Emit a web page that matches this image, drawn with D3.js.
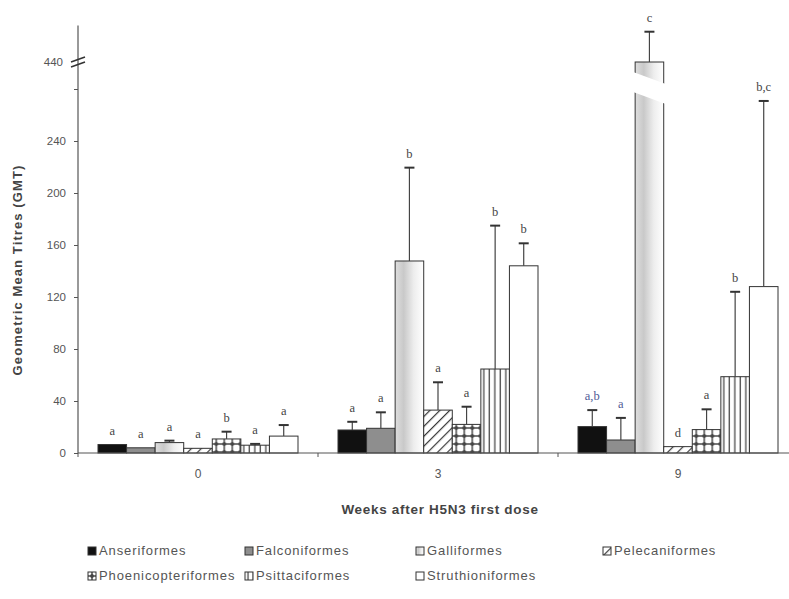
<!DOCTYPE html>
<html>
<head>
<meta charset="utf-8">
<script src="https://cdn.jsdelivr.net/npm/d3@7"></script>
<style>
  html, body { margin: 0; padding: 0; background: #fff; }
  svg { display: block; }
</style>
</head>
<body>
<svg id="chart" width="789" height="599"></svg>
<script>
// Weeks after first dose (groups on the x axis)
const weeks = ["0", "3", "9"];
// Bird orders (one bar each per week)
const orders = ["Anseriformes", "Falconiformes", "Galliformes", "Pelecaniformes",
                "Phoenicopteriformes", "Psittaciformes", "Struthioniformes"];

// Geometric mean titres per order, for each week
const gmtWeek0 = [6.5, 4, 8, 3.6, 10.8, 6, 13];
const gmtWeek3 = [17.7, 19, 147.7, 33, 22, 64.6, 144];
const gmtWeek9 = [20.3, 10, 440, 4.9, 18, 58.7, 128];

// Upper error (added above the mean)
const errWeek0 = [0, 0, 1.5, 0, 5.6, 1, 8.5];
const errWeek3 = [6.3, 12.3, 71.8, 21.4, 13.6, 110.3, 17.3];
const errWeek9 = [12.7, 17, 23.3, 0, 15.6, 65.3, 142.8];

// Significance letters
const lettersWeek0 = ["a", "a", "a", "a", "b", "a", "a"];
const lettersWeek3 = ["a", "a", "b", "a", "a", "b", "b"];
const lettersWeek9 = ["a,b", "a", "c", "d", "a", "b", "b,c"];

// Y ticks: lower segment and the single tick above the axis break
const lowerTicks = [0, 40, 80, 120, 160, 200, 240, 280];
const upperTicks = [440];

const gmt = [gmtWeek0, gmtWeek3, gmtWeek9];
const err = [errWeek0, errWeek3, errWeek9];
const letters = [lettersWeek0, lettersWeek3, lettersWeek9];

const rows = [];
weeks.forEach((w, wi) => orders.forEach((o, oi) => rows.push({
  week: w, order: o, value: gmt[wi][oi], err: err[wi][oi], letter: letters[wi][oi]
})));

const svg = d3.select("#chart");
const defs = svg.append("defs");

// ---- fills ----
const grad = defs.append("linearGradient").attr("id", "fill-galli")
  .attr("x1", "0%").attr("x2", "100%").attr("y1", "0%").attr("y2", "0%");
[["0%", "#dedede"], ["30%", "#c9c9c9"], ["65%", "#ededed"], ["100%", "#ffffff"]]
  .forEach(([o, c]) => grad.append("stop").attr("offset", o).attr("stop-color", c));

const hatch = defs.append("pattern").attr("id", "fill-pelec")
  .attr("patternUnits", "userSpaceOnUse").attr("width", 7).attr("height", 7)
  .attr("patternTransform", "rotate(45)");
hatch.append("rect").attr("width", 7).attr("height", 7).attr("fill", "#fff");
hatch.append("line").attr("x1", 0).attr("y1", 0).attr("x2", 0).attr("y2", 7)
  .attr("stroke", "#3a3a3a").attr("stroke-width", 2.4);

const check = defs.append("pattern").attr("id", "fill-phoen")
  .attr("patternUnits", "userSpaceOnUse").attr("width", 8).attr("height", 8);
check.append("rect").attr("width", 8).attr("height", 8).attr("fill", "#fff");
check.append("rect").attr("x", 0).attr("y", 3).attr("width", 8).attr("height", 2).attr("fill", "#777");
check.append("rect").attr("x", 3).attr("y", 0).attr("width", 2).attr("height", 8).attr("fill", "#777");
check.append("circle").attr("cx", 4).attr("cy", 4).attr("r", 1.9).attr("fill", "#444");

const vlines = defs.append("pattern").attr("id", "fill-psitt")
  .attr("patternUnits", "userSpaceOnUse").attr("width", 5.5).attr("height", 6);
vlines.append("rect").attr("width", 5.5).attr("height", 6).attr("fill", "#fff");
vlines.append("line").attr("x1", 3).attr("y1", 0).attr("x2", 3).attr("y2", 6)
  .attr("stroke", "#555").attr("stroke-width", 1.4);

const fills = d3.scaleOrdinal().domain(orders).range([
  "#111", "#8e8e8e", "url(#fill-galli)", "url(#fill-pelec)",
  "url(#fill-phoen)", "url(#fill-psitt)", "#fff"
]);

// ---- scales ----
const x0 = d3.scaleBand().domain(weeks).range([78, 798]);
const x1 = d3.scaleBand().domain(orders).range([20, x0.bandwidth() - 20]);

const yLow = d3.scaleLinear().domain([0, 280]).range([453, 89]);
const yHigh = d3.scaleLinear().domain([430, 468]).range([75, 25.6]);
const y = v => (v <= 280 ? yLow(v) : yHigh(v));

const axisColor = "#555";
const textColor = "#555";
const font = "Liberation Sans, Arial, sans-serif";

// ---- bars ----
const g = svg.append("g");
const bar = g.selectAll("g.bar").data(rows).join("g").attr("class", "bar")
  .attr("transform", d => `translate(${x0(d.week) + x1(d.order)},0)`);

bar.append("rect")
  .attr("x", 0).attr("width", x1.bandwidth())
  .attr("y", d => y(d.value)).attr("height", d => y(0) - y(d.value))
  .attr("fill", d => fills(d.order))
  .attr("stroke", "#333").attr("stroke-width", 1);

// slanted gap through bars that cross the axis break
bar.filter(d => d.value > 280).append("path")
  .attr("d", () => {
    const w = x1.bandwidth();
    const top = yHigh(430) - 3, bot = yLow(280) + 3, slant = 12;
    return `M-2,${top} L${w + 2},${top + slant} L${w + 2},${bot + slant} L-2,${bot} Z`;
  })
  .attr("fill", "#fff");

// error bars (upper only)
const eb = bar.filter(d => d.err > 0);
eb.append("line")
  .attr("x1", x1.bandwidth() / 2).attr("x2", x1.bandwidth() / 2)
  .attr("y1", d => y(d.value)).attr("y2", d => y(d.value + d.err))
  .attr("stroke", "#444").attr("stroke-width", 1.2);
eb.append("line")
  .attr("x1", x1.bandwidth() / 2 - 5).attr("x2", x1.bandwidth() / 2 + 5)
  .attr("y1", d => y(d.value + d.err)).attr("y2", d => y(d.value + d.err))
  .attr("stroke", "#333").attr("stroke-width", 2);

// letters above bars
bar.append("text")
  .attr("x", x1.bandwidth() / 2)
  .attr("y", d => y(d.value + d.err) - 10)
  .attr("text-anchor", "middle")
  .attr("font-family", "Liberation Serif, Times New Roman, serif")
  .attr("font-size", 12.5)
  .attr("fill", d => (d.week === "9" && (d.order === "Anseriformes" || d.order === "Falconiformes")) ? "#4f5a96" : "#444")
  .text(d => d.letter);

// ---- axes ----
const yAxisLow = svg.append("g").attr("transform", "translate(78,0)")
  .call(d3.axisLeft(yLow).tickValues(lowerTicks).tickSize(4).tickPadding(8)
    .tickFormat(v => (v === 280 ? "" : v)));
yAxisLow.select(".domain").remove();

const yAxisHigh = svg.append("g").attr("transform", "translate(78,0)")
  .call(d3.axisLeft(yHigh).tickValues(upperTicks).tickSize(0).tickPadding(15));
yAxisHigh.select(".domain").remove();

svg.selectAll(".tick line").attr("stroke", axisColor);
svg.selectAll(".tick text").attr("fill", textColor)
  .attr("font-family", font).attr("font-size", 11.5);

// continuous axis line
svg.append("line").attr("x1", 78).attr("x2", 78)
  .attr("y1", yHigh.range()[1]).attr("y2", yLow(0))
  .attr("stroke", axisColor).attr("stroke-width", 1.2);

// break marks on the axis
upperTicks.forEach(v => {
  [-2.5, 2.5].forEach(dy => {
    svg.append("line")
      .attr("x1", 71).attr("x2", 85)
      .attr("y1", yHigh(v) + dy + 2.5).attr("y2", yHigh(v) + dy - 2.5)
      .attr("stroke", "#333").attr("stroke-width", 1.6);
  });
});

// x axis
svg.append("line").attr("x1", 78).attr("x2", 789)
  .attr("y1", yLow(0)).attr("y2", yLow(0))
  .attr("stroke", axisColor).attr("stroke-width", 1.2);
const xAxis = svg.append("g").attr("transform", `translate(0,${yLow(0)})`)
  .call(d3.axisBottom(x0).tickSize(0).tickPadding(16));
xAxis.select(".domain").remove();
xAxis.selectAll("text").attr("fill", textColor).attr("font-family", font).attr("font-size", 12);
// group separators
weeks.forEach(w => {
  svg.append("line").attr("x1", x0(w)).attr("x2", x0(w))
    .attr("y1", yLow(0)).attr("y2", yLow(0) + 4)
    .attr("stroke", axisColor);
});

// axis titles
svg.append("text")
  .attr("transform", `translate(22,270) rotate(-90)`)
  .attr("text-anchor", "middle")
  .attr("font-family", font).attr("font-size", 13).attr("font-weight", "bold")
  .attr("letter-spacing", 1.1)
  .attr("fill", "#444")
  .text("Geometric Mean Titres (GMT)");

svg.append("text")
  .attr("x", 440).attr("y", 514)
  .attr("text-anchor", "middle")
  .attr("font-family", font).attr("font-size", 13.5).attr("font-weight", "bold")
  .attr("letter-spacing", 0.7)
  .attr("fill", "#444")
  .text("Weeks after H5N3 first dose");

// ---- legend ----
const legendPos = [[88, 555], [245, 555], [416, 555], [603, 555],
                   [88, 580], [245, 580], [416, 580]];
const legend = svg.append("g").selectAll("g").data(orders).join("g")
  .attr("transform", (d, i) => `translate(${legendPos[i][0]},${legendPos[i][1]})`);
legend.append("rect").attr("x", 0).attr("y", -8).attr("width", 8).attr("height", 8)
  .attr("fill", d => fills(d)).attr("stroke", "#333").attr("stroke-width", 1);
legend.append("text").attr("x", 11).attr("y", 0)
  .attr("font-family", font).attr("font-size", 13).attr("fill", "#555")
  .attr("letter-spacing", 0.9)
  .text(d => d);
</script>
</body>
</html>
